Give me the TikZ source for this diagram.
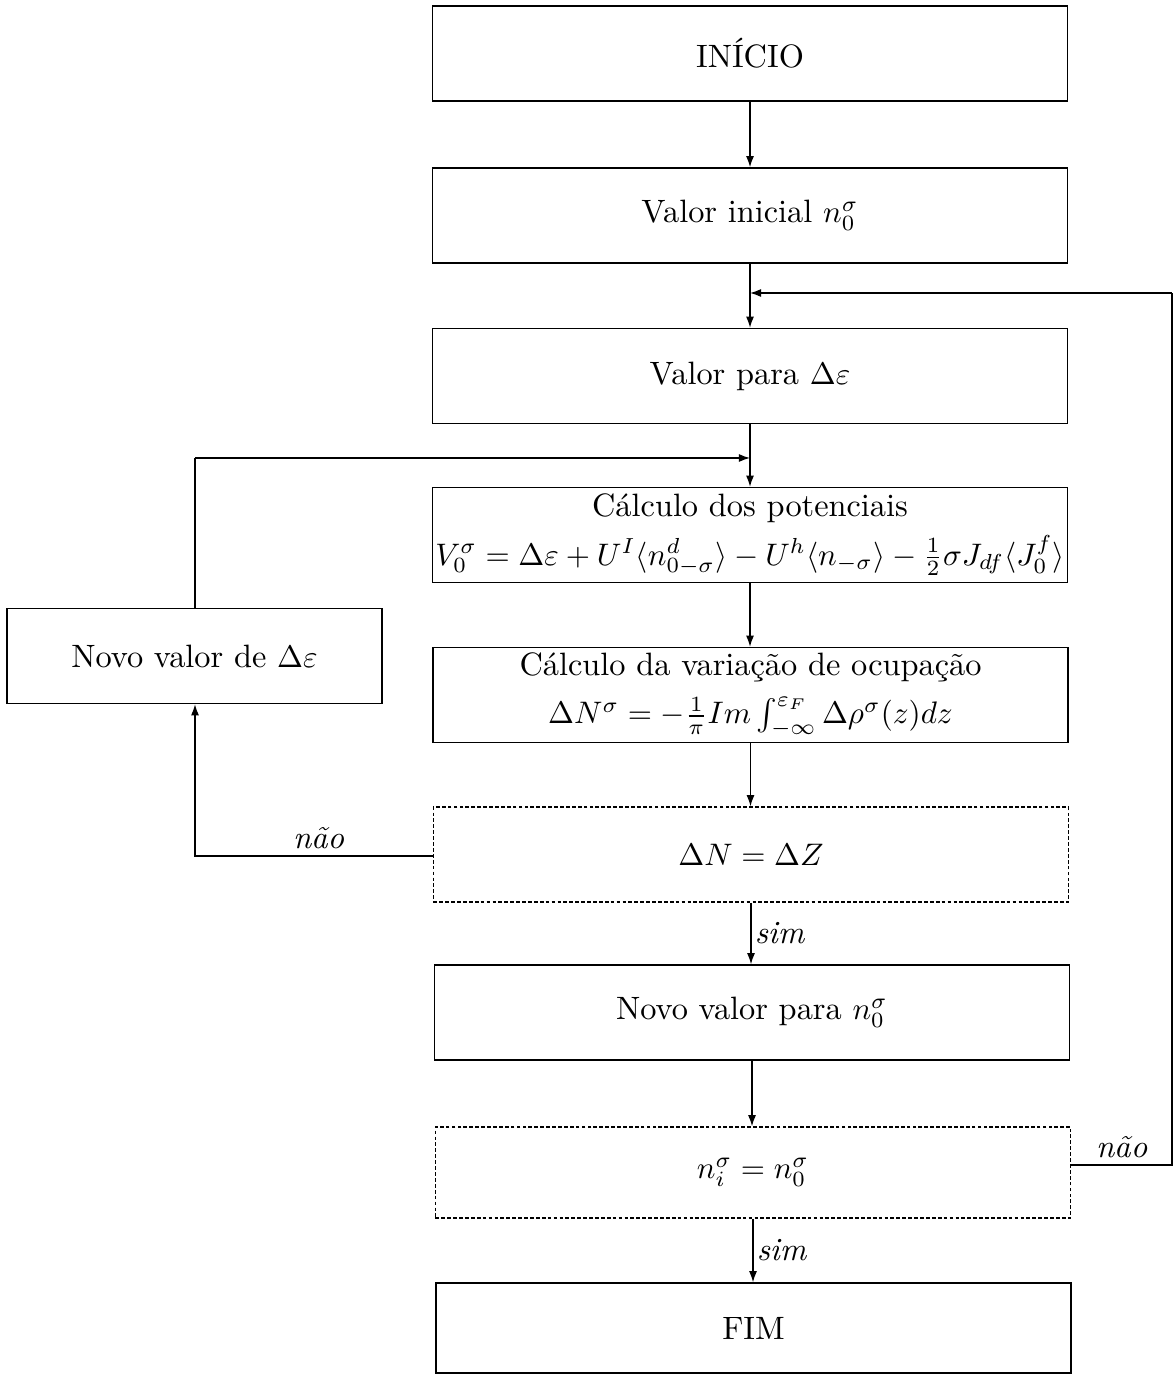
\documentclass[tikz,border=0pt]{standalone}
\usetikzlibrary{arrows.meta,calc}
\begin{document}
\begin{tikzpicture}[x=0.3215pt,y=-0.3215pt,
  fnt/.style={font=\fontsize{10.4}{12.5}\selectfont},
  box/.style={draw,line width=0.45pt,minimum width=204.2pt,minimum height=30.6pt,inner sep=0pt,align=center,fnt},
  dbox/.style={box,dash pattern=on 1.2pt off 0.7pt},
  arr/.style={line width=0.4pt,-{Latex[length=3.6pt,width=2.6pt]}},
  ln/.style={line width=0.4pt},
  lab/.style={font=\fontsize{10.4}{12.5}\selectfont\itshape}]
\useasboundingbox (0,0) rectangle (1176,1376);
\node[box] (inicio) at (750,53.5) {IN\'ICIO};
\node[box] (vini) at (750,215.5) {Valor inicial $n_0^\sigma$};
\node[box] (vpara) at (750,376) {Valor para $\Delta\varepsilon$};
\node[box] (cpot) at (750,535) {C\'alculo dos potenciais\\[3pt] $V_0^\sigma=\Delta\varepsilon+U^I\langle n^d_{0-\sigma}\rangle-U^h\langle n_{-\sigma}\rangle-\frac12\sigma J_{df}\langle J_0^f\rangle$};
\node[box] (cvar) at (750.5,695) {C\'alculo da varia\c{c}\~ao de ocupa\c{c}\~ao\\[3pt] $\Delta N^\sigma=-\frac1\pi Im\int_{-\infty}^{\varepsilon_F}\Delta\rho^\sigma(z)dz$};
\node[dbox] (dn) at (751,854.5) {$\Delta N=\Delta Z$};
\node[box] (nn) at (752,1012.5) {Novo valor para $n_0^\sigma$};
\node[dbox,minimum height=29.3pt] (ni) at (753,1172.5) {$n_i^\sigma=n_0^\sigma$};
\node[box,minimum height=29pt] (fim) at (753.5,1328) {FIM};
\node[box,minimum width=120.6pt] (nde) at (194.5,656) {Novo valor de $\Delta\varepsilon$};
\coordinate (j1) at (750,293);
\coordinate (j2) at (750,458);
\draw[arr] (inicio.south) -- (vini.north);
\draw[ln] (vini.south) -- (j1);
\draw[arr] (j1) -- (vpara.north);
\draw[ln] (vpara.south) -- (j2);
\draw[arr] (j2) -- (cpot.north);
\draw[arr] (cpot.south) -- (cvar.north-|cpot.south);
\draw[arr] (cvar.south) -- (dn.north-|cvar.south);
\draw[arr] (dn.south) -- node[lab,right,inner sep=1pt] {sim} (nn.north-|dn.south);
\draw[arr] (nn.south) -- (ni.north-|nn.south);
\draw[arr] (ni.south) -- node[lab,right,inner sep=1pt] {sim} (fim.north-|ni.south);
\coordinate (l1) at (195,856);
\coordinate (l2) at (195,458);
\draw[arr] (dn.west|-l1) -- node[lab,above,inner sep=2pt,pos=0.48] {n\~ao} (l1) -- (nde.south-|l1);
\draw[ln] (nde.north-|l2) -- (l2);
\draw[arr] (l2) -- (j2);
\coordinate (r1) at (1172,1165);
\coordinate (r2) at (1172,293);
\draw[ln] (ni.east|-r1) -- node[lab,above,inner sep=2pt] {n\~ao} (r1) -- (r2);
\draw[arr] (r2) -- (j1);
\end{tikzpicture}
\end{document}
